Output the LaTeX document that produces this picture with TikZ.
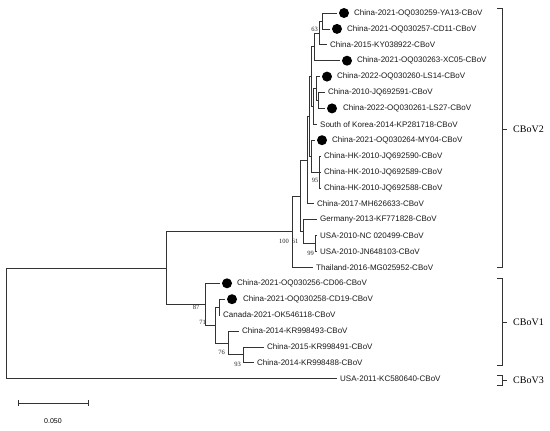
\documentclass[tikz,border=0pt]{standalone}
\usepackage{fontspec}
\setmainfont{Liberation Sans}
\newfontfamily\serifnum{Liberation Serif}
\begin{document}
\begin{tikzpicture}[x=1pt,y=-1pt,
  br/.style={draw=black!80, line width=0.75pt},
  leaf/.style={anchor=west, inner sep=0pt, font=\fontsize{8}{9}\selectfont, text=black!90},
  boot/.style={anchor=east, inner sep=0pt, font=\serifnum\fontsize{6.5}{7}\selectfont, text=black!85},
  bigdot/.style={circle, fill=black, inner sep=0pt, minimum size=10pt},
  clade/.style={anchor=west, inner sep=0pt, font=\serifnum\fontsize{10}{12}\selectfont},
  scl/.style={anchor=center, inner sep=0pt, font=\fontsize{7}{8}\selectfont}
]
\useasboundingbox (0,0) rectangle (550,431);

% ---- leaf tips
\coordinate (t1) at (337,13.0);
\coordinate (t2) at (330,28.9);
\coordinate (t3) at (327,44.8);
\coordinate (t4) at (340,60.7);
\coordinate (t5) at (320,76.6);
\coordinate (t6) at (325,92.5);
\coordinate (t7) at (325,108.4);
\coordinate (t8) at (317,124.3);
\coordinate (t9) at (315,140.2);
\coordinate (t10) at (321,156.1);
\coordinate (t11) at (321,172.0);
\coordinate (t12) at (321,187.9);
\coordinate (t13) at (314,203.8);
\coordinate (t14) at (317,219.7);
\coordinate (t15) at (317,235.6);
\coordinate (t16) at (317,251.5);
\coordinate (t17) at (313,267.4);
\coordinate (t18) at (220,283.3);
\coordinate (t19) at (225,299.2);
\coordinate (t20) at (220,315.1);
\coordinate (t21) at (239,331.0);
\coordinate (t22) at (264,346.9);
\coordinate (t23) at (254,362.8);
\coordinate (t24) at (337,378.7);

% ---- dots
\node[bigdot] (d1) at (344,13.0) {};
\node[bigdot] (d2) at (337,28.9) {};
\node[bigdot] (d4) at (347,60.7) {};
\node[bigdot] (d5) at (327,76.6) {};
\node[bigdot] (d7) at (332,108.4) {};
\node[bigdot] (d9) at (322,140.2) {};
\node[bigdot] (d18) at (227,283.3) {};
\node[bigdot] (d19) at (232,299.2) {};

% ---- leaf labels
\node[leaf] (l1) at (354,13.0) {China-2021-OQ030259-YA13-CBoV};
\node[leaf] (l2) at (347,28.9) {China-2021-OQ030257-CD11-CBoV};
\node[leaf] (l3) at (330,44.8) {China-2015-KY038922-CBoV};
\node[leaf] (l4) at (357,60.7) {China-2021-OQ030263-XC05-CBoV};
\node[leaf] (l5) at (337,76.6) {China-2022-OQ030260-LS14-CBoV};
\node[leaf] (l6) at (328,92.5) {China-2010-JQ692591-CBoV};
\node[leaf] (l7) at (343,108.4) {China-2022-OQ030261-LS27-CBoV};
\node[leaf] (l8) at (320,124.3) {South of Korea-2014-KP281718-CBoV};
\node[leaf] (l9) at (332,140.2) {China-2021-OQ030264-MY04-CBoV};
\node[leaf] (l10) at (324,156.1) {China-HK-2010-JQ692590-CBoV};
\node[leaf] (l11) at (324,172.0) {China-HK-2010-JQ692589-CBoV};
\node[leaf] (l12) at (324,187.9) {China-HK-2010-JQ692588-CBoV};
\node[leaf] (l13) at (317,203.8) {China-2017-MH626633-CBoV};
\node[leaf] (l14) at (320,219.7) {Germany-2013-KF771828-CBoV};
\node[leaf] (l15) at (320,235.6) {USA-2010-NC 020499-CBoV};
\node[leaf] (l16) at (320,251.5) {USA-2010-JN648103-CBoV};
\node[leaf] (l17) at (316,267.4) {Thailand-2016-MG025952-CBoV};
\node[leaf] (l18) at (237,283.3) {China-2021-OQ030256-CD06-CBoV};
\node[leaf] (l19) at (243,299.2) {China-2021-OQ030258-CD19-CBoV};
\node[leaf] (l20) at (223,315.1) {Canada-2021-OK546118-CBoV};
\node[leaf] (l21) at (242,331.0) {China-2014-KR998493-CBoV};
\node[leaf] (l22) at (267,346.9) {China-2015-KR998491-CBoV};
\node[leaf] (l23) at (257,362.8) {China-2014-KR998488-CBoV};
\node[leaf] (l24) at (340,378.7) {USA-2011-KC580640-CBoV};

% ---- internal nodes
\coordinate (nA) at (322,20.95);
\coordinate (nB) at (319,32.9);
\coordinate (nR) at (314,46.8);
\coordinate (nP) at (318,100.45);
\coordinate (nQ) at (316,88.5);
\coordinate (nU) at (313,106.4);
\coordinate (nS) at (311,76.6);
\coordinate (n95) at (319,172.0);
\coordinate (nMH) at (311,156.1);
\coordinate (nT) at (309,116.35);
\coordinate (nAa) at (307,160.1);
\coordinate (n99) at (315,243.55);
\coordinate (nG) at (303,231.6);
\coordinate (n61) at (300,195.9);
\coordinate (n100) at (292,231.6);
\coordinate (nC) at (219,307.15);
\coordinate (n93) at (243,354.85);
\coordinate (n76) at (228,342.9);
\coordinate (n71) at (215,325.0);
\coordinate (n87) at (205,304.2);
\coordinate (nM) at (166,267.9);
\coordinate (nRoot) at (6,323.3);

% ---- branches
\draw[br] (nA) |- (t1); \draw[br] (nA) |- (t2);
\draw[br] (nB) |- (nA); \draw[br] (nB) |- (t3);
\draw[br] (nR) |- (nB); \draw[br] (nR) |- (t4);
\draw[br] (nP) |- (t6); \draw[br] (nP) |- (t7);
\draw[br] (nQ) |- (t5); \draw[br] (nQ) |- (nP);
\draw[br] (nU) |- (nQ); \draw[br] (nU) |- (t8);
\draw[br] (nS) |- (nR); \draw[br] (nS) |- (nU);
\draw[br] (n95) |- (t10); \draw[br] (n95) |- (t11); \draw[br] (n95) |- (t12);
\draw[br] (nMH) |- (t9); \draw[br] (nMH) |- (n95);
\draw[br] (nT) |- (nS); \draw[br] (nT) |- (nMH);
\draw[br] (nAa) |- (nT); \draw[br] (nAa) |- (t13);
\draw[br] (n99) |- (t15); \draw[br] (n99) |- (t16);
\draw[br] (nG) |- (t14); \draw[br] (nG) |- (n99);
\draw[br] (n61) |- (nAa); \draw[br] (n61) |- (nG);
\draw[br] (n100) |- (n61); \draw[br] (n100) |- (t17);
\draw[br] (nC) |- (t19); \draw[br] (nC) |- (t20);
\draw[br] (n93) |- (t22); \draw[br] (n93) |- (t23);
\draw[br] (n76) |- (t21); \draw[br] (n76) |- (n93);
\draw[br] (n71) |- (nC); \draw[br] (n71) |- (n76);
\draw[br] (n87) |- (t18); \draw[br] (n87) |- (n71);
\draw[br] (nM) |- (n100); \draw[br] (nM) |- (n87);
\draw[br] (nRoot) |- (nM); \draw[br] (nRoot) |- (t24);

% ---- bootstrap values
\node[boot] (b63) at (318,29) {63};
\node[boot] (b95) at (318.5,180) {95};
\node[boot] (b100) at (289,241) {100};
\node[boot] (b61) at (298.5,241) {61};
\node[boot] (b99) at (314,253) {99};
\node[boot] (b87) at (199.5,307) {87};
\node[boot] (b71) at (206,322) {71};
\node[boot] (b76) at (225,352) {76};
\node[boot] (b93) at (241,364.5) {93};

% ---- clade brackets
\coordinate (k2a) at (497,8); \coordinate (k2b) at (502,8);
\coordinate (k2c) at (502,267); \coordinate (k2d) at (497,267);
\coordinate (k2m) at (502,129); \coordinate (k2e) at (507,129);
\draw[br] (k2a) -- (k2b) -- (k2c) -- (k2d);
\draw[br] (k2m) -- (k2e);
\node[clade] (c2) at (513,129) {CBoV2};

\coordinate (k1a) at (497,278); \coordinate (k1b) at (502,278);
\coordinate (k1c) at (502,365); \coordinate (k1d) at (497,365);
\coordinate (k1m) at (502,322); \coordinate (k1e) at (507,322);
\draw[br] (k1a) -- (k1b) -- (k1c) -- (k1d);
\draw[br] (k1m) -- (k1e);
\node[clade] (c1) at (513,322) {CBoV1};

\coordinate (k3a) at (497,375); \coordinate (k3b) at (502,375);
\coordinate (k3c) at (502,385); \coordinate (k3d) at (497,385);
\coordinate (k3m) at (502,380); \coordinate (k3e) at (507,380);
\draw[br] (k3a) -- (k3b) -- (k3c) -- (k3d);
\draw[br] (k3m) -- (k3e);
\node[clade] (c3) at (513,380) {CBoV3};

% ---- scale bar
\coordinate (s1) at (18,403); \coordinate (s2) at (88,403);
\draw[br] (s1) -- (s2);
\draw[br] ([yshift=-3pt]s1) -- ([yshift=3pt]s1);
\draw[br] ([yshift=-3pt]s2) -- ([yshift=3pt]s2);
\node[scl] (sl) at (53,421) {0.050};
\end{tikzpicture}
\end{document}
